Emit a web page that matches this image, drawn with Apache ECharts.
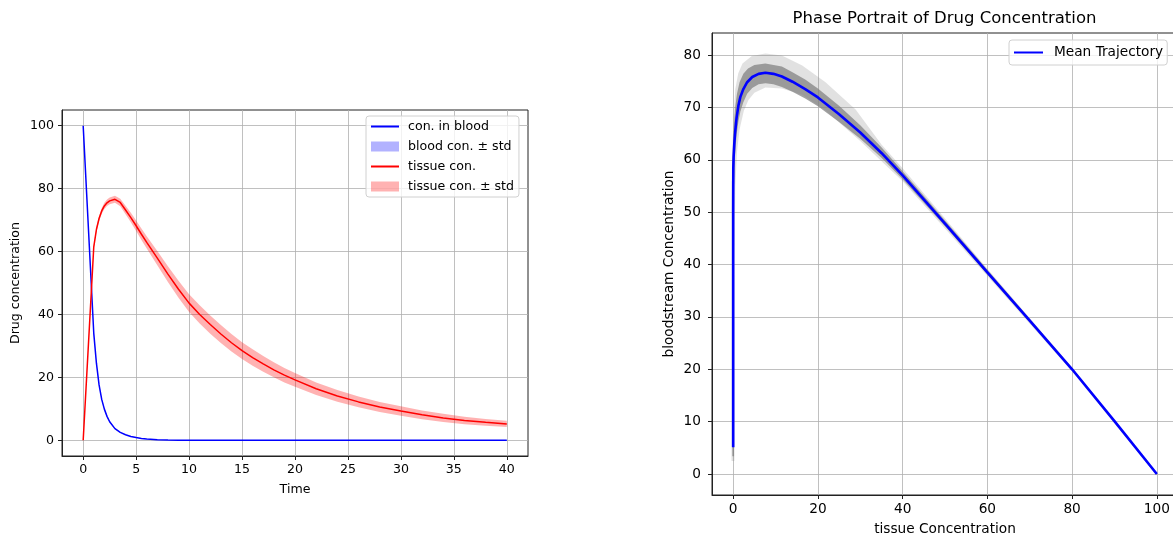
<!DOCTYPE html>
<html>
<head>
<meta charset="utf-8">
<script src="https://cdn.jsdelivr.net/npm/echarts@6/dist/echarts.min.js"></script>
<style>
  html, body { margin: 0; padding: 0; background: #fff; }
  #chart { width: 1173px; height: 540px; }
</style>
</head>
<body>
<div id="chart"></div>
<script>
// ---- time course: ensemble mean and standard deviation ----
const time = [0, 1, 1.25, 1.5, 1.75, 2, 2.25, 2.5, 3, 3.5, 4, 4.5, 5, 5.5, 6, 7, 8, 9, 10, 11, 12, 13, 14, 15, 16, 17, 18, 19, 20, 22, 24, 26, 28, 30, 32, 34, 36, 38, 40];
const bloodMean = [100, 34, 24.5, 17.6, 13.0, 9.9, 7.6, 5.9, 3.7, 2.5, 1.75, 1.2, 0.85, 0.58, 0.4, 0.18, 0.08, 0.03, 0.01, 0, 0, 0, 0, 0, 0, 0, 0, 0, 0, 0, 0, 0, 0, 0, 0, 0, 0, 0, 0];
const bloodStd = [0, 0.5, 0.45, 0.4, 0.35, 0.3, 0.25, 0.2, 0.15, 0.1, 0.07, 0.05, 0.03, 0.02, 0.01, 0, 0, 0, 0, 0, 0, 0, 0, 0, 0, 0, 0, 0, 0, 0, 0, 0, 0, 0, 0, 0, 0, 0, 0];
const tissueMean = [0, 61.5, 67.0, 70.5, 72.9, 74.5, 75.5, 76.1, 76.6, 75.6, 73.2, 70.8, 68.2, 65.5, 62.9, 57.9, 52.8, 48.0, 43.6, 40.0, 36.8, 33.8, 31.0, 28.5, 26.3, 24.3, 22.4, 20.7, 19.2, 16.4, 14.1, 12.2, 10.6, 9.3, 8.1, 7.1, 6.3, 5.7, 5.2];
const tissueStd = [0, 0.7, 0.8, 0.9, 0.95, 1.0, 1.02, 1.05, 1.1, 1.2, 1.35, 1.5, 1.65, 1.8, 1.95, 2.25, 2.5, 2.7, 2.85, 2.9, 2.9, 2.85, 2.8, 2.7, 2.6, 2.5, 2.4, 2.3, 2.2, 2.0, 1.85, 1.7, 1.6, 1.5, 1.4, 1.3, 1.2, 1.1, 1.0];

// ---- phase portrait: mean trajectory (x = blood, y = tissue) ----
const phaseBlood = [100, 90, 80, 70, 60, 50, 40, 35, 30, 25, 20, 17, 14, 11.5, 9.5, 7.6, 6, 4.5, 3.3, 2.4, 1.7, 1.25, 0.8, 0.47, 0.25, 0.1, 0.03, 0, 0];
const phaseTissue = [0, 10.1, 20.0, 29.3, 38.5, 47.8, 57.0, 61.3, 65.2, 68.7, 71.9, 73.5, 74.9, 75.9, 76.4, 76.6, 76.4, 75.8, 74.8, 73.5, 72.0, 70.4, 68.0, 65.3, 62.9, 60.5, 58.5, 50, 5.1];

// spread of the individual trajectories, as outline polygons [blood, tissue]
const spreadOuter = [
  [-0.4, 2.5], [-0.4, 55], [-0.2, 62], [0.1, 68], [0.5, 73.5], [1.2, 76.5], [2.2, 78.4], [4.4, 79.8],
  [7.6, 80.3], [11.5, 79.9], [16.3, 78.0], [21.8, 74.8], [28.9, 69.6], [35, 62.9], [40, 58.4],
  [50, 48.8], [60, 39.2], [80, 20.4], [100, 0.3],
  [100, -0.3], [80, 19.6], [60, 37.8], [50, 46.9], [40, 55.9], [30, 63.6], [21.8, 69.4], [16.3, 72.4],
  [11.5, 73.6], [7.6, 73.8], [5.0, 72.8], [3.6, 71.4], [2.5, 69.3], [1.5, 65.8], [0.9, 61.5],
  [0.5, 55], [0.3, 40], [0.3, 2.5]
];
const spreadCore = [
  [-0.2, 3.4], [-0.2, 58], [0.0, 63.5], [0.2, 67], [0.5, 70.2], [0.9, 72.6], [1.5, 74.8], [2.4, 76.4],
  [3.5, 77.4], [5.0, 78.1], [7.6, 78.4], [11.5, 77.8], [14, 76.7], [17, 75.3], [20, 73.6], [25, 70.3],
  [30, 66.6], [35, 62.4], [40, 57.8], [50, 48.4], [60, 39.0], [80, 20.25], [100, 0.15],
  [100, -0.15], [80, 19.8], [60, 38.1], [50, 47.3], [40, 56.3], [35, 60.4], [30, 64.0], [25, 67.2],
  [20, 70.2], [17, 71.7], [14, 73.0], [11.5, 73.9], [9.5, 74.4], [7.6, 74.6], [6, 74.4], [4.5, 73.7],
  [3.3, 72.6], [2.4, 71.0], [1.7, 69.2], [1.25, 67.4], [0.8, 64.8], [0.45, 61], [0.2, 55], [0.2, 3.4]
];

// ---- tick positions ----
const timeTicks = [0, 5, 10, 15, 20, 25, 30, 35, 40];
const concTicks = [0, 20, 40, 60, 80, 100];
const phaseXTicks = [0, 20, 40, 60, 80, 100];
const phaseYTicks = [0, 10, 20, 30, 40, 50, 60, 70, 80];

const FONT = 'DejaVu Sans';
const FS_LEFT = 12.6;   // text size of the time-course panel
const FS_RIGHT = 13.7;  // text size of the phase-portrait panel

function valueAxis(gridIndex, min, max, ticks, name, nameGap, isY, fs, labelMargin) {
  return {
    type: 'value', gridIndex, min, max,
    name, nameLocation: 'middle', nameGap, nameRotate: isY ? 90 : 0,
    nameTextStyle: { fontFamily: FONT, fontSize: fs, color: '#000' },
    axisLine: { show: true, onZero: false, lineStyle: { color: '#222', width: 1 } },
    axisTick: { show: true, inside: false, length: 4, customValues: ticks, lineStyle: { color: '#222', width: 1 } },
    axisLabel: { customValues: ticks, margin: labelMargin, fontFamily: FONT, fontSize: fs, color: '#000' },
    splitLine: { show: true, lineStyle: { color: '#b0b0b0', width: 0.8 } }
  };
}

// filled band between two curves given on the time grid
function timeBand(name, low, high, color) {
  return {
    type: 'custom', name, xAxisIndex: 0, yAxisIndex: 0, silent: true,
    itemStyle: { color },
    data: [[time[0], low[0]]],
    renderItem: (params, api) => {
      const pts = [];
      for (let i = 0; i < time.length; i++) pts.push(api.coord([time[i], high[i]]));
      for (let i = time.length - 1; i >= 0; i--) pts.push(api.coord([time[i], low[i]]));
      return { type: 'polygon', shape: { points: pts }, style: { fill: color } };
    }
  };
}

// filled outline in the phase plane
function phaseArea(outline, color) {
  return {
    type: 'custom', xAxisIndex: 1, yAxisIndex: 1, silent: true,
    data: [outline[0]],
    renderItem: (params, api) => ({
      type: 'polygon',
      shape: { points: outline.map(p => api.coord(p)) },
      style: { fill: color }
    })
  };
}

const bloodLow = bloodMean.map((v, i) => v - bloodStd[i]);
const bloodHigh = bloodMean.map((v, i) => v + bloodStd[i]);
const tissueLow = tissueMean.map((v, i) => v - tissueStd[i]);
const tissueHigh = tissueMean.map((v, i) => v + tissueStd[i]);

const BLUE_FILL = 'rgba(0,0,255,0.3)';
const RED_FILL = 'rgba(255,0,0,0.3)';

const option = {
  animation: false,
  textStyle: { fontFamily: FONT },
  title: {
    text: 'Phase Portrait of Drug Concentration',
    left: 944.5, top: 10, padding: 0, textAlign: 'center',
    textStyle: { fontFamily: FONT, fontSize: 16.5, fontWeight: 'normal', color: '#000' }
  },
  legend: [
    {
      orient: 'vertical', left: 366, top: 116,
      padding: [3, 5, 3, 4], itemGap: 5, itemWidth: 28, itemHeight: 10,
      backgroundColor: 'rgba(255,255,255,0.8)', borderColor: '#d0d0d0', borderWidth: 1, borderRadius: 3,
      textStyle: { fontFamily: FONT, fontSize: FS_LEFT, color: '#000', lineHeight: 15, padding: [0, 0, 0, 4] },
      selectedMode: false,
      data: [
        { name: 'con. in blood', itemStyle: { opacity: 0 } },
        { name: 'blood con. ± std', icon: 'rect', itemStyle: { color: BLUE_FILL, borderWidth: 0 } },
        { name: 'tissue con.', itemStyle: { opacity: 0 } },
        { name: 'tissue con. ± std', icon: 'rect', itemStyle: { color: RED_FILL, borderWidth: 0 } }
      ]
    },
    {
      orient: 'vertical', left: 1009, top: 40,
      padding: [4.5, 4, 4.5, 4], itemWidth: 29, itemHeight: 10,
      backgroundColor: 'rgba(255,255,255,0.8)', borderColor: '#d0d0d0', borderWidth: 1, borderRadius: 3,
      textStyle: { fontFamily: FONT, fontSize: FS_RIGHT, color: '#000', lineHeight: 16, padding: [0, 0, 0, 6] },
      selectedMode: false,
      data: [{ name: 'Mean Trajectory', itemStyle: { opacity: 0 } }]
    }
  ],
  grid: [
    { left: 62, top: 110, width: 466, height: 346, show: true, borderColor: '#222', borderWidth: 1,
      containLabel: false, outerBoundsMode: 'none' },
    { left: 712, top: 33, width: 466, height: 462, show: true, borderColor: '#222', borderWidth: 1,
      containLabel: false, outerBoundsMode: 'none' }
  ],
  xAxis: [
    valueAxis(0, -2, 42, timeTicks, 'Time', 27, false, FS_LEFT, 7),
    valueAxis(1, -5, 105, phaseXTicks, 'tissue Concentration', 27.5, false, FS_RIGHT, 7)
  ],
  yAxis: [
    valueAxis(0, -5, 105, concTicks, 'Drug concentration', 40, true, FS_LEFT, 8),
    valueAxis(1, -4.0, 84.2, phaseYTicks, 'bloodstream Concentration', 36, true, FS_RIGHT, 11)
  ],
  series: [
    {
      type: 'line', name: 'con. in blood', xAxisIndex: 0, yAxisIndex: 0,
      data: time.map((t, i) => [t, bloodMean[i]]),
      showSymbol: false, symbol: 'none', silent: true,
      itemStyle: { color: '#0000ff' },
      lineStyle: { color: '#0000ff', width: 1.5 }
    },
    timeBand('blood con. ± std', bloodLow, bloodHigh, BLUE_FILL),
    {
      type: 'line', name: 'tissue con.', xAxisIndex: 0, yAxisIndex: 0,
      data: time.map((t, i) => [t, tissueMean[i]]),
      showSymbol: false, symbol: 'none', silent: true,
      itemStyle: { color: '#ff0000' },
      lineStyle: { color: '#ff0000', width: 1.5 }
    },
    timeBand('tissue con. ± std', tissueLow, tissueHigh, RED_FILL),

    phaseArea(spreadOuter, 'rgba(128,128,128,0.24)'),
    phaseArea(spreadCore, 'rgba(128,128,128,0.72)'),
    {
      type: 'line', name: 'Mean Trajectory', xAxisIndex: 1, yAxisIndex: 1,
      data: phaseBlood.map((b, i) => [b, phaseTissue[i]]),
      showSymbol: false, symbol: 'none', silent: true,
      itemStyle: { color: '#0000ff' },
      lineStyle: { color: '#0000ff', width: 2.6 }
    }
  ]
};

const chart = echarts.init(document.getElementById('chart'), null, { renderer: 'canvas' });
chart.setOption(option);
</script>
</body>
</html>
